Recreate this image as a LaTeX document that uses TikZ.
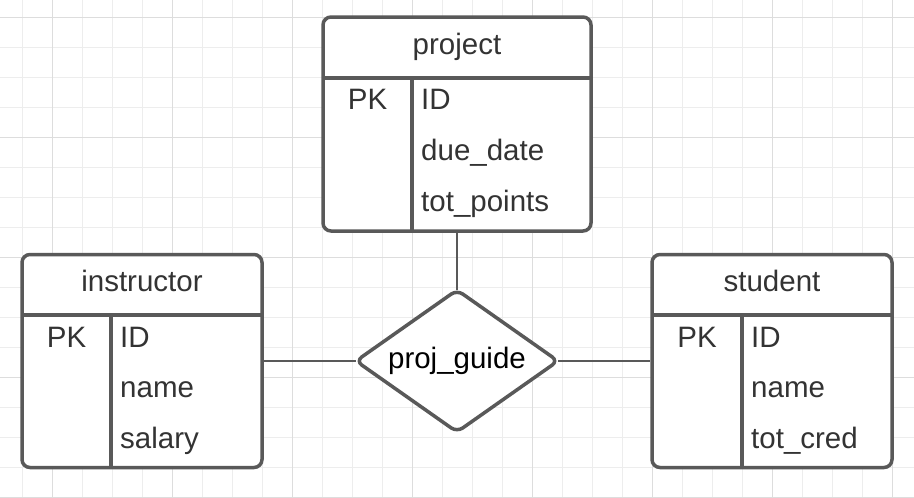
\documentclass[tikz,border=0pt]{standalone}
\usepackage{fontspec}
\setmainfont{Liberation Sans}
\definecolor{linec}{HTML}{595959}
\definecolor{textc}{HTML}{333333}
\definecolor{gridminor}{HTML}{EDEDED}
\definecolor{gridmajor}{HTML}{DDDDDD}
\tikzset{
  tbl/.style={draw=linec, line width=3.5pt, rounded corners=8pt, fill=white, inner sep=0pt},
  sepline/.style={draw=linec, line width=3.5pt},
  conn/.style={draw=linec, line width=2.2pt},
  hdr/.style={text=textc, font=\fontsize{29.5}{34}\selectfont, anchor=base, inner sep=0pt},
  fld/.style={text=textc, font=\fontsize{29.5}{34}\selectfont, anchor=base west, inner sep=0pt},
  pk/.style={text=textc, font=\fontsize{29.5}{34}\selectfont, anchor=base, inner sep=0pt},
  rel/.style={text=black, font=\fontsize{29.5}{34}\selectfont, inner sep=0pt},
  relshape/.style={draw=linec, line width=3.5pt, fill=white, rounded corners=7pt},
}
\begin{document}
\begin{tikzpicture}[x=1pt, y=-1pt]
\useasboundingbox (0,0) rectangle (914,498);
\fill[white] (0,0) rectangle (914,498);
% grid
\foreach \x in {22,52,...,892} \draw[gridminor, line width=1pt] (\x,0) -- (\x,498);
\foreach \y in {17,47,...,497} \draw[gridminor, line width=1pt] (0,\y) -- (914,\y);
\foreach \x in {52,172,...,892} \draw[gridmajor, line width=1pt] (\x,0) -- (\x,498);
\foreach \y in {17,137,...,497} \draw[gridmajor, line width=1pt] (0,\y) -- (914,\y);

% relationship diamond
\coordinate (dt) at (457,290);
\coordinate (dr) at (558,361);
\coordinate (db) at (457,432);
\coordinate (dl) at (356,361);

% tables
\node[tbl, minimum width=268pt, minimum height=214pt] (project) at (457,124) {};
\node[tbl, minimum width=240pt, minimum height=213pt] (instructor) at (142,361) {};
\node[tbl, minimum width=240pt, minimum height=213pt] (student) at (772,361) {};

% connectors
\draw[conn] (project.south) -- (dt);
\draw[conn] (instructor.east) -- (dl);
\draw[conn] (dr) -- (student.west);

\path[relshape] (dt) -- (dr) -- (db) -- (dl) -- cycle;
\node[rel] (relname) at (457,361) {proj\_guide};

% project table
\draw[sepline] (323,78) -- (591,78);
\draw[sepline] (412,78) -- (412,231);
\node[hdr] (ph) at (457,54) {project};
\node[pk] (ppk) at (367.5,109) {PK};
\node[fld] (p1) at (421,109) {ID};
\node[fld] (p2) at (421,160) {due\_date};
\node[fld] (p3) at (421,211) {tot\_points};

% instructor table
\draw[sepline] (22,315) -- (262,315);
\draw[sepline] (111,315) -- (111,467.5);
\node[hdr] (ih) at (142,291) {instructor};
\node[pk] (ipk) at (66.5,347) {PK};
\node[fld] (i1) at (120,347) {ID};
\node[fld] (i2) at (120,397.5) {name};
\node[fld] (i3) at (120,448) {salary};

% student table
\draw[sepline] (652,315) -- (892,315);
\draw[sepline] (742,315) -- (742,467.5);
\node[hdr] (sh) at (772,291) {student};
\node[pk] (spk) at (697,347) {PK};
\node[fld] (s1) at (751,347) {ID};
\node[fld] (s2) at (751,397.5) {name};
\node[fld] (s3) at (751,448) {tot\_cred};
\end{tikzpicture}
\end{document}
